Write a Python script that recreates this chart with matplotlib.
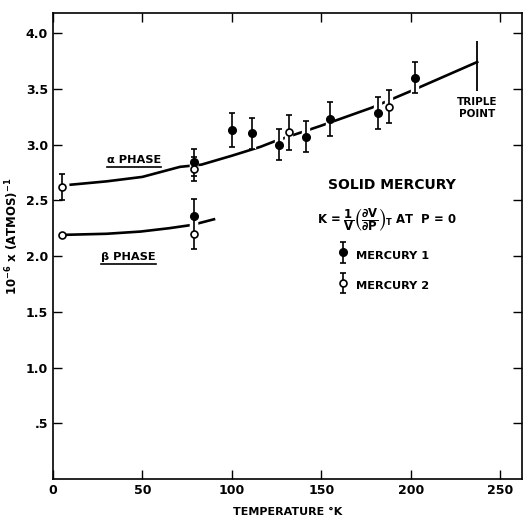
import matplotlib
matplotlib.use("Agg")
import matplotlib.pyplot as plt
import matplotlib.patheffects as pe
from matplotlib.lines import Line2D
from matplotlib.container import ErrorbarContainer
from matplotlib.legend_handler import HandlerErrorbar
import numpy as np

# Mercury 1 (filled points)
hg1_temp = [79, 79, 100, 111, 126.5, 141.5, 155, 181.5, 202]
hg1_kappa = [2.84, 2.36, 3.13, 3.10, 3.00, 3.07, 3.23, 3.28, 3.60]
hg1_err = [0.12, 0.15, 0.15, 0.14, 0.14, 0.14, 0.15, 0.145, 0.14]

# Mercury 2 (open points)
hg2_temp = [5, 5, 79, 79, 132, 188]
hg2_kappa = [2.62, 2.19, 2.78, 2.20, 3.11, 3.34]
hg2_err = [0.12, np.nan, 0.11, 0.14, 0.155, 0.15]

# fitted curves
alpha_temp = [10, 30, 50, 71, 83, 100, 116, 124, 150, 178, 200, 237]
alpha_kappa = [2.64, 2.67, 2.71, 2.80, 2.82, 2.90, 2.98, 3.03, 3.17, 3.33, 3.48, 3.74]
beta_temp = [5, 30, 49, 65, 78, 90]
beta_kappa = [2.19, 2.20, 2.22, 2.25, 2.28, 2.33]

triple_temp = 237
triple_range = (3.48, 3.93)

xticks = [0, 50, 100, 150, 200, 250]
yticks = [0.5, 1.0, 1.5, 2.0, 2.5, 3.0, 3.5, 4.0]
ytick_labels = [".5", "1.0", "1.5", "2.0", "2.5", "3.0", "3.5", "4.0"]

plt.rcParams["font.family"] = "DejaVu Sans"
plt.rcParams["font.weight"] = "bold"
plt.rcParams["axes.labelweight"] = "bold"
plt.rcParams["mathtext.default"] = "bf"

fig = plt.figure(figsize=(5.23, 5.18), dpi=100)
ax = fig.add_axes([0.101, 0.075, 0.897, 0.9])

ax.plot(alpha_temp, alpha_kappa, color="black", lw=1.9, zorder=1)
ax.plot(beta_temp, beta_kappa, color="black", lw=1.9, zorder=1)
ax.vlines(triple_temp, *triple_range, color="black", lw=1.3)

halo = [pe.withStroke(linewidth=6, foreground="white")]
e1 = ax.errorbar(hg1_temp, hg1_kappa, yerr=hg1_err, fmt="o", color="black",
                 ms=5.5, capsize=2.5, elinewidth=1.2, capthick=1.2, zorder=3,
                 label="MERCURY 1")
e2 = ax.errorbar(hg2_temp, hg2_kappa, yerr=hg2_err, fmt="o", color="black",
                 mfc="white", mec="black", mew=1.2, ms=5, capsize=2.5,
                 elinewidth=1.2, capthick=1.2, zorder=3, label="MERCURY 2")
# white halo on the bars breaks the fitted curve where they cross, as in the original
for cont in (e1, e2):
    cont[2][0].set_path_effects(halo)
    cont[2][0].set_zorder(2)

ax.set_xlim(0, 262)
ax.set_ylim(0, 4.18)
ax.set_xticks(xticks)
ax.set_yticks(yticks, ytick_labels)
ax.tick_params(direction="in", length=6.5, width=1, labelsize=9,
               top=True, right=True, labeltop=False, labelright=False)
for s in ax.spines.values():
    s.set_linewidth(1.2)

ax.set_xlabel("TEMPERATURE °K", fontsize=8, labelpad=7)
ax.set_ylabel("10$^{-6}$ x (ATMOS)$^{-1}$", fontsize=8.5)
ax.yaxis.set_label_coords(-0.067, 0.52)

t_alpha = ax.text(45.4, 2.86, "α PHASE", fontsize=8.2, ha="center", va="center")
t_beta = ax.text(42.2, 1.99, "β PHASE", fontsize=8.2, ha="center", va="center")
ax.text(237.2, 3.33, "TRIPLE\nPOINT", fontsize=7.5, ha="center", va="center",
        linespacing=1.3)

ax.text(0.723, 0.631, "SOLID MERCURY", transform=ax.transAxes, fontsize=10,
        ha="center", va="center")
ax.text(0.712, 0.556,
        r"K = $\dfrac{1}{V}\left(\dfrac{\partial V}{\partial P}\right)_T$ AT  P = 0",
        transform=ax.transAxes, fontsize=8.4, ha="center", va="center")

ax.legend(handles=[e1, e2], loc="center left", bbox_to_anchor=(0.585, 0.448),
          frameon=False, fontsize=8.2, handlelength=1.0, handleheight=2.0,
          labelspacing=1.15, handletextpad=0.6,
          handler_map={ErrorbarContainer: HandlerErrorbar(yerr_size=0.9)})

# underline the phase labels
fig.canvas.draw()
for t in (t_alpha, t_beta):
    bb = t.get_window_extent()
    y = bb.y0 - 2
    fig.add_artist(Line2D([bb.x0, bb.x1], [y, y], transform=None,
                          color="black", lw=1.2))

fig.savefig("out.png", dpi=100)
